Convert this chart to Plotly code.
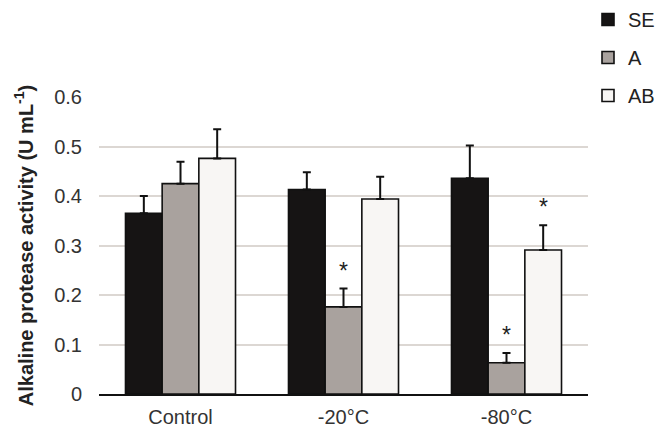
import plotly.graph_objects as go

categories = ["Control", "-20°C", "-80°C"]
series_names = ["SE", "A", "AB"]
se_values = [0.365, 0.413, 0.436]
se_errors = [0.035, 0.035, 0.066]
a_values = [0.425, 0.176, 0.063]
a_errors = [0.044, 0.037, 0.020]
ab_values = [0.476, 0.394, 0.291]
ab_errors = [0.059, 0.045, 0.050]
# significance markers: (category, series index)
stars = [("-20°C", 1), ("-80°C", 1), ("-80°C", 2)]

colors = ["#161414", "#a9a29e", "#f8f6f4"]
values = [se_values, a_values, ab_values]
errors = [se_errors, a_errors, ab_errors]

fig = go.Figure()
for i, name in enumerate(series_names):
    fig.add_trace(go.Bar(
        x=categories, y=values[i], name=name, legendgroup=name,
        marker=dict(color=colors[i], line=dict(color="#111111", width=1.6)),
        error_y=dict(type="data", array=errors[i], arrayminus=[0]*3, symmetric=False,
                     color="#111111", thickness=2, width=4),
    ))

L, R, T, B = 99, 68, 97, 37
W, H = 656, 431
plot_w = W - L - R
bargap = 0.325
cat_w = plot_w / len(categories)
bar_w = cat_w * (1 - bargap) / len(series_names)

for cat, si in stars:
    ci = categories.index(cat)
    top = values[si][ci] + errors[si][ci]
    fig.add_annotation(x=cat, y=top, yshift=3, xshift=(si - 1) * bar_w,
                       text="*", showarrow=False, yanchor="bottom",
                       font=dict(size=23, color="#1e1e1e", family="Liberation Sans"))

fig.update_layout(
    width=W, height=H,
    margin=dict(l=L, r=R, t=T, b=B, pad=0, autoexpand=False),
    paper_bgcolor="white", plot_bgcolor="white",
    barmode="group", bargap=bargap, bargroupgap=0,
    font=dict(family="Liberation Sans, Arial, sans-serif", color="#333333", size=20),
    showlegend=True,
    legend=dict(x=1.0, xref="paper", xanchor="left", y=1.0, yref="container", yanchor="top",
                font=dict(size=20, color="#222222"), tracegroupgap=9,
                bgcolor="rgba(0,0,0,0)", itemwidth=30),
    yaxis=dict(range=[0, 0.6], dtick=0.1, tickformat=".1~f", showgrid=True,
               gridcolor="#dcd7d3", gridwidth=2, zeroline=False, showline=False,
               ticks="", ticklabelstandoff=16,
               tickfont=dict(size=20, color="#333333"),
               title=dict(text="<b>Alkaline protease activity (U mL<sup>-1</sup>)</b>",
                          font=dict(size=20, color="#222222"), standoff=15)),
    xaxis=dict(showline=True, linecolor="#111111", linewidth=2, ticks="",
               tickfont=dict(size=20, color="#333333"), ticklabelstandoff=4),
)

fig.write_html("out.html")
